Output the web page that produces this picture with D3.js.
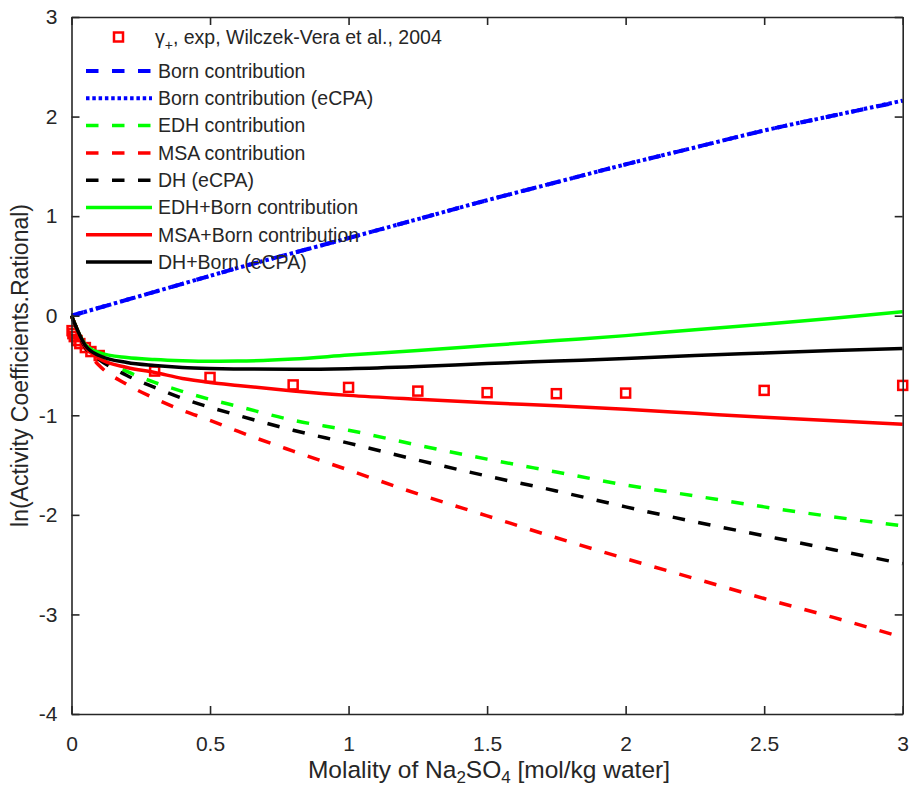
<!DOCTYPE html>
<html>
<head>
<meta charset="utf-8">
<script src="https://cdn.jsdelivr.net/npm/d3@7"></script>
<style>
  html, body { margin: 0; padding: 0; background: #ffffff; }
  svg { display: block; }
  text { font-family: "Liberation Sans", Arial, Helvetica, sans-serif; fill: #262626; }
</style>
</head>
<body>
<svg id="chart" width="910" height="789"></svg>
<script>
// Molality grid (mol/kg water) shared by the model curves
const molality = [0, 0.05, 0.1, 0.2, 0.3, 0.4, 0.5, 0.6, 0.8, 1.0, 1.25, 1.5, 1.75, 2.0, 2.25, 2.5, 2.75, 3.0];

// Model contributions to ln(gamma), rational scale
const bornContribution     = [0, 0.04, 0.08, 0.16, 0.24, 0.32, 0.40, 0.48, 0.63, 0.78, 0.97, 1.16, 1.34, 1.52, 1.69, 1.86, 2.01, 2.155];
const bornContributionECPA = [0, 0.04, 0.08, 0.16, 0.24, 0.32, 0.40, 0.48, 0.63, 0.78, 0.97, 1.16, 1.34, 1.52, 1.69, 1.86, 2.01, 2.16];
const edhContribution      = [0, -0.31, -0.42, -0.56, -0.67, -0.76, -0.84, -0.91, -1.05, -1.15, -1.30, -1.44, -1.57, -1.70, -1.81, -1.92, -2.02, -2.11];
const msaContribution      = [0, -0.33, -0.50, -0.69, -0.83, -0.95, -1.05, -1.16, -1.36, -1.55, -1.79, -2.01, -2.23, -2.44, -2.64, -2.84, -3.03, -3.23];
const dhECPA               = [0, -0.32, -0.44, -0.60, -0.72, -0.83, -0.92, -1.00, -1.15, -1.28, -1.45, -1.61, -1.76, -1.92, -2.07, -2.21, -2.35, -2.49];
const edhBorn              = [0, -0.29, -0.37, -0.42, -0.44, -0.452, -0.458, -0.456, -0.435, -0.395, -0.35, -0.30, -0.25, -0.20, -0.14, -0.085, -0.025, 0.04];
const msaBorn              = [0, -0.31, -0.43, -0.52, -0.57, -0.63, -0.67, -0.70, -0.755, -0.80, -0.84, -0.875, -0.905, -0.94, -0.98, -1.02, -1.055, -1.09];
const dhBornECPA           = [0, -0.30, -0.40, -0.47, -0.50, -0.52, -0.53, -0.535, -0.538, -0.532, -0.51, -0.48, -0.455, -0.43, -0.40, -0.375, -0.35, -0.33];

// Experimental mean ionic activity coefficients (Wilczek-Vera et al., 2004)
const expMolality = [0.002, 0.005, 0.01, 0.02, 0.03, 0.05, 0.07, 0.1, 0.3, 0.5, 0.8, 1.0, 1.25, 1.5, 1.75, 2.0, 2.5, 3.0];
const expLnGamma  = [-0.15, -0.18, -0.21, -0.25, -0.28, -0.32, -0.36, -0.40, -0.556, -0.62, -0.695, -0.72, -0.757, -0.773, -0.783, -0.777, -0.75, -0.70];

// Axis ticks
const xTicks = [0, 0.5, 1, 1.5, 2, 2.5, 3];
const xTickLabels = ["0", "0.5", "1", "1.5", "2", "2.5", "3"];
const yTicks = [-4, -3, -2, -1, 0, 1, 2, 3];
const yTickLabels = ["-4", "-3", "-2", "-1", "0", "1", "2", "3"];

// Series in drawing / legend order
const seriesList = [
  { name: "Born contribution",        values: bornContribution,     color: "#0000ff", dash: "12.5,13.5", width: 4 },
  { name: "Born contribution (eCPA)", values: bornContributionECPA, color: "#0000ff", dash: "3.5,2.8",   width: 4 },
  { name: "EDH contribution",         values: edhContribution,      color: "#00ff00", dash: "12.5,13.5", width: 3.5 },
  { name: "MSA contribution",         values: msaContribution,      color: "#ff0000", dash: "12.5,13.5", width: 3.5 },
  { name: "DH (eCPA)",                values: dhECPA,               color: "#000000", dash: "12.5,13.5", width: 3.5 },
  { name: "EDH+Born contribution",    values: edhBorn,              color: "#00ff00", dash: null,        width: 3.5 },
  { name: "MSA+Born contribution",    values: msaBorn,              color: "#ff0000", dash: null,        width: 3.5 },
  { name: "DH+Born (eCPA)",           values: dhBornECPA,           color: "#000000", dash: null,        width: 3.5 }
];

const svg = d3.select("#chart");
const plot = { left: 71.5, right: 902.7, top: 17, bottom: 714 };
const axisColor = "#262626";

const x = d3.scaleLinear().domain([0, 3]).range([plot.left, plot.right]);
const y = d3.scaleLinear().domain([-4, 3]).range([plot.bottom, plot.top]);

// Experimental points (drawn first, lines go over them)
const markerSize = 9;
svg.append("g")
  .selectAll("rect")
  .data(expMolality.map((m, i) => ({ m, g: expLnGamma[i] })))
  .join("rect")
  .attr("x", d => x(d.m) - markerSize / 2)
  .attr("y", d => y(d.g) - markerSize / 2)
  .attr("width", markerSize)
  .attr("height", markerSize)
  .attr("fill", "none")
  .attr("stroke", "#ff0000")
  .attr("stroke-width", 2.5);

// Model curves
const line = d3.line()
  .x(d => x(d[0]))
  .y(d => y(d[1]))
  .curve(d3.curveMonotoneX);

const curves = svg.append("g");
seriesList.forEach(s => {
  curves.append("path")
    .datum(molality.map((m, i) => [m, s.values[i]]))
    .attr("d", line)
    .attr("fill", "none")
    .attr("stroke", s.color)
    .attr("stroke-width", s.width)
    .attr("stroke-dasharray", s.dash)
    .attr("stroke-linejoin", "round");
});

// Axes box with inward ticks on all four sides
function styleAxis(g) {
  g.selectAll("path.domain").attr("stroke", axisColor).attr("stroke-width", 1.6);
  g.selectAll(".tick line").attr("stroke", axisColor).attr("stroke-width", 1.6);
  g.selectAll("text").attr("fill", axisColor).attr("font-size", 21)
    .attr("font-family", "'Liberation Sans', Arial, Helvetica, sans-serif");
}

svg.append("g")
  .attr("transform", `translate(0,${plot.bottom})`)
  .call(d3.axisBottom(x).tickValues(xTicks).tickFormat((d, i) => xTickLabels[i])
    .tickSizeInner(-8).tickSizeOuter(0).tickPadding(22))
  .call(styleAxis);

svg.append("g")
  .attr("transform", `translate(0,${plot.top})`)
  .call(d3.axisTop(x).tickValues(xTicks).tickFormat(() => "")
    .tickSizeInner(-8).tickSizeOuter(0))
  .call(styleAxis);

svg.append("g")
  .attr("transform", `translate(${plot.left},0)`)
  .call(d3.axisLeft(y).tickValues(yTicks).tickFormat((d, i) => yTickLabels[i])
    .tickSizeInner(-8).tickSizeOuter(0).tickPadding(14))
  .call(styleAxis);

svg.append("g")
  .attr("transform", `translate(${plot.right},0)`)
  .call(d3.axisRight(y).tickValues(yTicks).tickFormat(() => "")
    .tickSizeInner(-8).tickSizeOuter(0))
  .call(styleAxis);

// Axis titles
const xTitle = svg.append("text")
  .attr("x", 489)
  .attr("y", 778)
  .attr("text-anchor", "middle")
  .attr("font-size", 24.5);
xTitle.append("tspan").text("Molality of Na");
xTitle.append("tspan").attr("font-size", 17).attr("dy", 5).text("2");
xTitle.append("tspan").attr("dy", -5).text("SO");
xTitle.append("tspan").attr("font-size", 17).attr("dy", 5).text("4");
xTitle.append("tspan").attr("dy", -5).text(" [mol/kg water]");

svg.append("text")
  .attr("transform", `translate(28,${(plot.top + plot.bottom) / 2}) rotate(-90)`)
  .attr("text-anchor", "middle")
  .attr("font-size", 23)
  .text("ln(Activity Coefficients.Rational)");

// Legend (no frame)
const legend = svg.append("g").attr("font-size", 19.5);
const legX0 = 86, legX1 = 152, legTextX = 158;
const markerRowY = 37, firstLineRowY = 71, rowStep = 27.3;

legend.append("rect")
  .attr("x", (legX0 + legX1) / 2 - markerSize / 2 - 0.5)
  .attr("y", markerRowY - markerSize / 2)
  .attr("width", markerSize)
  .attr("height", markerSize)
  .attr("fill", "none")
  .attr("stroke", "#ff0000")
  .attr("stroke-width", 2.5);

const expLabel = legend.append("text")
  .attr("x", legTextX - 3)
  .attr("y", markerRowY)
  .attr("dy", "0.35em");
expLabel.append("tspan").text("γ");
expLabel.append("tspan").attr("font-size", 14).attr("dy", 6).text("+");
expLabel.append("tspan").attr("dy", -6).text(", exp, Wilczek-Vera et al., 2004");

seriesList.forEach((s, i) => {
  const yy = firstLineRowY + i * rowStep;
  legend.append("line")
    .attr("x1", legX0).attr("x2", legX1)
    .attr("y1", yy).attr("y2", yy)
    .attr("stroke", s.color)
    .attr("stroke-width", s.width)
    .attr("stroke-dasharray", s.dash);
  legend.append("text")
    .attr("x", legTextX)
    .attr("y", yy)
    .attr("dy", "0.35em")
    .text(s.name);
});
</script>
</body>
</html>
